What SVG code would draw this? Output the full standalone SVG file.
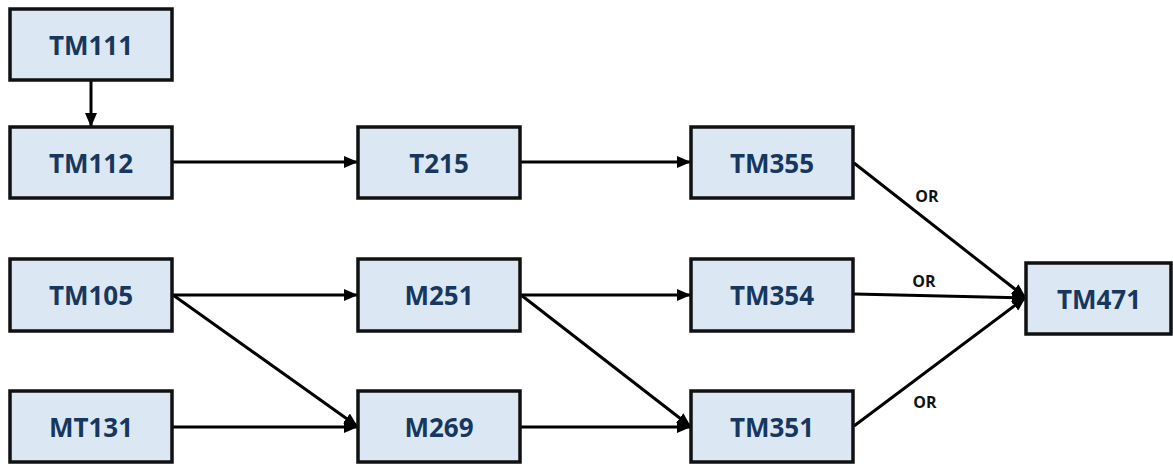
<svg xmlns="http://www.w3.org/2000/svg" width="1173" height="464" viewBox="0 0 1173 464">
<style>
.box{fill:#dbe8f4;stroke:#111;stroke-width:3.5}
.lbl{font-family:"Open Sans","Liberation Sans",sans-serif;font-weight:bold;font-size:26px;fill:#17375e;text-anchor:middle;dominant-baseline:central}
.or{font-family:"Open Sans","Liberation Sans",sans-serif;font-weight:bold;font-size:16px;fill:#111;text-anchor:middle;dominant-baseline:central}
.c{stroke:#000;stroke-width:3;fill:none;marker-end:url(#ah)}
</style>
<defs>
<marker id="ah" markerUnits="userSpaceOnUse" markerWidth="14" markerHeight="12" refX="13" refY="6" orient="auto">
<path d="M0,0 L14,6 L0,12 Z" fill="#000"/>
</marker>
</defs>
<rect width="1173" height="464" fill="#fff"/>
<g id="connectors">
<line class="c" x1="91" y1="81" x2="91" y2="126"/>
<line class="c" x1="173" y1="162" x2="357" y2="162"/>
<line class="c" x1="521" y1="162" x2="690" y2="162"/>
<line class="c" x1="173" y1="295" x2="357" y2="295"/>
<line class="c" x1="173" y1="295" x2="357" y2="426"/>
<line class="c" x1="173" y1="427" x2="357" y2="427"/>
<line class="c" x1="521" y1="295" x2="690" y2="295"/>
<line class="c" x1="521" y1="295" x2="690" y2="426"/>
<line class="c" x1="521" y1="427" x2="690" y2="427"/>
<line class="c" x1="854" y1="163" x2="1025" y2="297"/>
<line class="c" x1="854" y1="294" x2="1025" y2="298"/>
<line class="c" x1="854" y1="426" x2="1025" y2="298"/>
<text class="or" x="927" y="196">OR</text>
<text class="or" x="924" y="281">OR</text>
<text class="or" x="925" y="402">OR</text>
</g>
<g id="TM111"><rect class="box" x="10" y="9" width="162" height="71"/><text class="lbl" x="91" y="45">TM111</text></g>
<g id="TM112"><rect class="box" x="10" y="127" width="162" height="71"/><text class="lbl" x="91" y="163">TM112</text></g>
<g id="TM105"><rect class="box" x="10" y="259" width="162" height="72"/><text class="lbl" x="91" y="295">TM105</text></g>
<g id="MT131"><rect class="box" x="10" y="391" width="162" height="71"/><text class="lbl" x="91" y="427">MT131</text></g>
<g id="T215"><rect class="box" x="358" y="127" width="162" height="71"/><text class="lbl" x="439" y="163">T215</text></g>
<g id="M251"><rect class="box" x="358" y="259" width="162" height="72"/><text class="lbl" x="439" y="295">M251</text></g>
<g id="M269"><rect class="box" x="358" y="391" width="162" height="71"/><text class="lbl" x="439" y="427">M269</text></g>
<g id="TM355"><rect class="box" x="691" y="127" width="162" height="71"/><text class="lbl" x="772" y="163">TM355</text></g>
<g id="TM354"><rect class="box" x="691" y="259" width="162" height="72"/><text class="lbl" x="772" y="295">TM354</text></g>
<g id="TM351"><rect class="box" x="691" y="391" width="162" height="71"/><text class="lbl" x="772" y="427">TM351</text></g>
<g id="TM471"><rect class="box" x="1026" y="263" width="145" height="71"/><text class="lbl" x="1099" y="299">TM471</text></g>
</svg>
